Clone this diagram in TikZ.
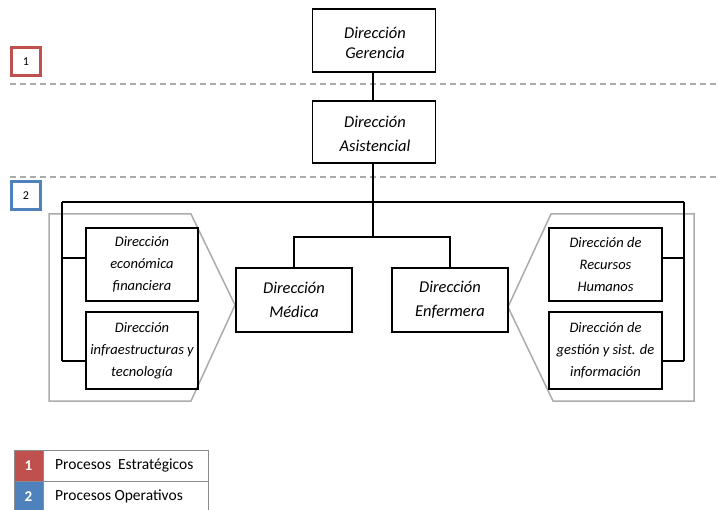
\documentclass[tikz,border=0pt]{standalone}
\usepackage{fontspec}
\setmainfont{Carlito}
\definecolor{stratred}{HTML}{C0504D}
\definecolor{operblue}{HTML}{4F81BD}
\definecolor{zonegray}{HTML}{ABABAB}
\definecolor{legendgray}{HTML}{8C8C8C}
\begin{document}
\begin{tikzpicture}[x=1pt,y=-1pt,
  bigbox/.style={draw, line width=1.3pt, minimum width=123pt, minimum height=63pt,
    inner sep=0pt, align=center, font=\fontsize{16.5}{24}\selectfont\itshape},
  midbox/.style={bigbox, minimum width=116pt, minimum height=64pt},
  smallbox/.style={draw, line width=1.3pt, minimum width=112pt, inner sep=0pt,
    align=center, font=\fontsize{14.5}{22}\selectfont\itshape},
  link/.style={line width=1.2pt},
  zone/.style={draw=zonegray, line width=1.5pt},
  divider/.style={draw=zonegray, line width=1.6pt, dash pattern=on 6pt off 4pt},
  tag/.style={draw=#1, line width=3pt, minimum width=29pt, minimum height=28pt,
    inner sep=0pt, font=\fontsize{12}{12}\selectfont},
  legcell/.style={draw=legendgray, line width=0.8pt, fill=#1, minimum width=29pt,
    minimum height=31pt, inner sep=0pt, text=white, font=\fontsize{15}{15}\selectfont\bfseries},
  legframe/.style={draw=legendgray, line width=0.8pt, minimum width=165pt,
    minimum height=31pt, inner sep=0pt},
  legtext/.style={anchor=west, inner sep=0pt, font=\fontsize{15.5}{17}\selectfont}
]
\useasboundingbox (0,0) rectangle (720,510);

% level dividers
\draw[divider] (10,84) -- (720,84);
\draw[divider] (10,177) -- (720,177);

% level tags
\node[tag=stratred] (tag1) at (26,62) {1};
\node[tag=operblue] (tag2) at (26,196) {2};

% grey grouping shapes
\draw[zone] (49,214) -- (191,214) -- (235,305) -- (191,401) -- (49,401) -- cycle;
\draw[zone] (694,214) -- (551,214) -- (508,307) -- (553,401) -- (694,401) -- cycle;

% boxes
\node[bigbox, minimum height=63pt] (ger) at (374,40.5) {};
\node[align=center, font=\fontsize{16.5}{20}\selectfont\itshape] (gertext) at (375,42.5) {Dirección\\Gerencia};
\node[bigbox, minimum height=62pt] (asi) at (374,132) {};
\node[align=center, font=\fontsize{16.5}{24}\selectfont\itshape] (asitext) at (375,134) {Dirección\\Asistencial};
\node[midbox] (med) at (294,300) {Dirección\\Médica};
\node[midbox] (enf) at (450,300) {Dirección\\Enfermera};
\node[smallbox, minimum height=73pt] (eco) at (142,264.5) {Dirección\\económica\\financiera};
\node[smallbox, minimum height=77pt] (inf) at (142,350.5) {Dirección\\infraestructuras y\\tecnología};
\node[smallbox, minimum width=113pt, minimum height=73pt] (rrh) at (605.5,264.5) {Dirección de\\Recursos\\Humanos};
\node[smallbox, minimum width=113pt, minimum height=77pt] (ges) at (605.5,350.5) {Dirección de\\gestión y sist. de\\información};

% junction points
\coordinate (hub) at (373,202);
\coordinate (split) at (373,237);
\coordinate (lTop) at (62,202);
\coordinate (lA) at (62,258);
\coordinate (lB) at (62,361);
\coordinate (rTop) at (684,202);
\coordinate (rA) at (684,258);
\coordinate (rB) at (684,361);

% connectors
\draw[link] (ger.south -| hub) -- (asi.north -| hub);
\draw[line width=1.6pt] (asi.south -| hub) -- (split);
\draw[link] (lTop) -- (rTop);
\draw[link] (med.north) -- (med.north |- split) -- (enf.north |- split) -- (enf.north);
\draw[link] (lTop) -- (lB);
\draw[link] (lA) -- (lA -| eco.west);
\draw[link] (lB) -- (lB -| inf.west);
\draw[link] (rTop) -- (rB);
\draw[link] (rA) -- (rA -| rrh.east);
\draw[link] (rB) -- (rB -| ges.east);

% legend
\node[legframe, anchor=west] (legf1) at (43,465.5) {};
\node[legframe, anchor=west] (legf2) at (43,496.5) {};
\node[legcell=stratred] (leg1) at (28.5,465.5) {1};
\node[legcell=operblue] (leg2) at (28.5,496.5) {2};
\node[legtext] (legt1) at ([xshift=12pt]legf1.west) {Procesos\ \ Estratégicos};
\node[legtext] (legt2) at ([xshift=12pt]legf2.west) {Procesos Operativos};
\end{tikzpicture}
\end{document}
